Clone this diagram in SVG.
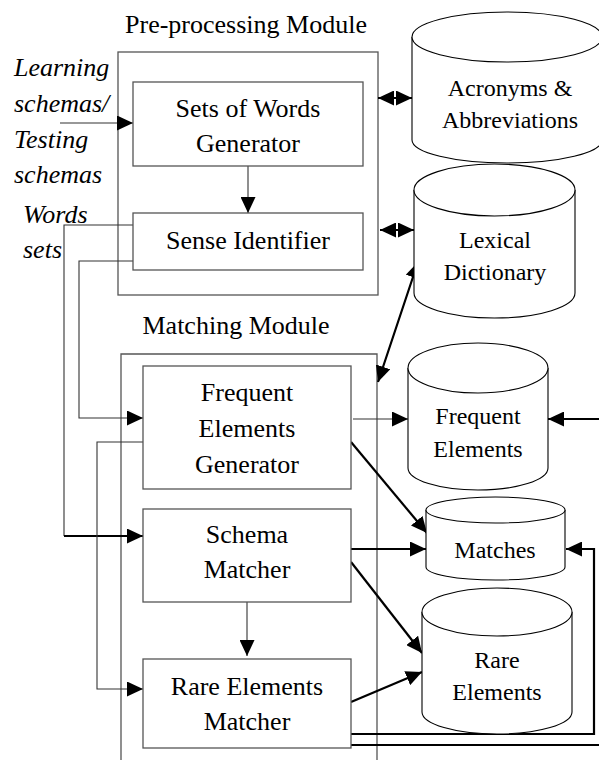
<svg xmlns="http://www.w3.org/2000/svg" width="599" height="760" viewBox="0 0 599 760">
<defs>
<marker id="ah" markerUnits="userSpaceOnUse" markerWidth="16" markerHeight="15" refX="16" refY="7.5" orient="auto-start-reverse">
<path d="M0,0 L16,7.5 L0,15 z" fill="#000"/>
</marker>
</defs>
<style>
text{font-family:'Liberation Serif','DejaVu Serif',serif;fill:#000;text-anchor:middle}
.box{fill:#fff;stroke:#555;stroke-width:1.3}
.mod{fill:none;stroke:#555;stroke-width:1.3}
.cyl{fill:#fff;stroke:#000;stroke-width:1.1}
.t26{font-size:26px}
.t24{font-size:24px}
.it{font-style:italic;font-size:26px;text-anchor:start}
.thin{fill:none;stroke:#333;stroke-width:1.1}
.thick{fill:none;stroke:#000;stroke-width:2.2}
</style>
<rect width="599" height="760" fill="#fff"/>
<g font-family="Liberation Serif, DejaVu Serif, serif">

<g id="preprocessing-module">
<text class="t26" x="246" y="33">Pre-processing Module</text>
<rect class="mod" x="118" y="52" width="260" height="243"/>
</g>
<g id="matching-module">
<text class="t26" x="236" y="334">Matching Module</text>
<path class="mod" d="M121,760 V354 H377 V760"/>
</g>

<g id="input-label">
<text class="it" x="14" y="76">Learning</text>
<text class="it" x="14" y="112">schemas/</text>
<text class="it" x="14" y="148">Testing</text>
<text class="it" x="14" y="183">schemas</text>
</g>
<g id="words-sets-label">
<text class="it" x="23" y="223">Words</text>
<text class="it" x="23" y="258">sets</text>
</g>

<g id="connectors">
<path class="thin" d="M60,123 H133" marker-end="url(#ah)"/>
<path class="thin" d="M248,166 V213" marker-end="url(#ah)"/>
<path class="thin" d="M133,225 H64 V536"/>
<path class="thick" d="M64,536 H143" marker-end="url(#ah)"/>
<path class="thin" d="M133,261 H79 V418 H143" marker-end="url(#ah)"/>
<path class="thin" d="M143,442 H97 V689 H143" marker-end="url(#ah)"/>
<path class="thin" d="M247,602 V656" marker-end="url(#ah)"/>
<path class="thin" d="M353,419 H408" marker-end="url(#ah)"/>
<path class="thick" d="M599,419 H548" marker-end="url(#ah)"/>
<path class="thick" d="M378,98 H412" marker-start="url(#ah)" marker-end="url(#ah)"/>
<path class="thick" d="M380,230 H414" marker-start="url(#ah)" marker-end="url(#ah)"/>
<path class="thick" d="M378,382 L418,262" marker-start="url(#ah)" marker-end="url(#ah)"/>
<path class="thick" d="M351,442 L427,533" marker-end="url(#ah)"/>
<path class="thick" d="M351,549 H426" marker-end="url(#ah)"/>
<path class="thick" d="M351,562 L422,653" marker-end="url(#ah)"/>
<path class="thick" d="M351,702 L422,672" marker-end="url(#ah)"/>
<path class="thick" d="M351,734 H594 V549 H566" marker-end="url(#ah)"/>
<path class="thick" d="M351,745 H599"/>
</g>

<g id="sets-of-words-generator">
<rect class="box" x="133" y="82" width="230" height="84"/>
<text class="t26" x="248" y="117">Sets of Words</text>
<text class="t26" x="248" y="152">Generator</text>
</g>
<g id="sense-identifier">
<rect class="box" x="133" y="213" width="230" height="57"/>
<text class="t26" x="248" y="249">Sense Identifier</text>
</g>
<g id="frequent-elements-generator">
<rect class="box" x="143" y="366" width="208" height="123"/>
<text class="t26" x="247" y="401">Frequent</text>
<text class="t26" x="247" y="437">Elements</text>
<text class="t26" x="247" y="473">Generator</text>
</g>
<g id="schema-matcher">
<rect class="box" x="143" y="509" width="208" height="93"/>
<text class="t26" x="247" y="543">Schema</text>
<text class="t26" x="247" y="578">Matcher</text>
</g>
<g id="rare-elements-matcher">
<rect class="box" x="143" y="659" width="208" height="89"/>
<text class="t26" x="247" y="695">Rare Elements</text>
<text class="t26" x="247" y="730">Matcher</text>
</g>

<g id="acronyms-abbreviations">
<path class="cyl" d="M412,37 V140 A95,23 0 0 0 602,140 V37"/>
<ellipse class="cyl" cx="507" cy="37" rx="95" ry="25"/>
<text class="t24" x="510" y="96">Acronyms &amp;</text>
<text class="t24" x="510" y="128">Abbreviations</text>
</g>
<g id="lexical-dictionary">
<path class="cyl" d="M414,190 V293 A80.5,25 0 0 0 575,293 V190"/>
<ellipse class="cyl" cx="494.5" cy="190" rx="80.5" ry="26"/>
<text class="t24" x="495" y="248">Lexical</text>
<text class="t24" x="495" y="280">Dictionary</text>
</g>
<g id="frequent-elements">
<path class="cyl" d="M408,368 V468 A70,22 0 0 0 548,468 V368"/>
<ellipse class="cyl" cx="478" cy="368" rx="70" ry="25"/>
<text class="t24" x="478" y="424">Frequent</text>
<text class="t24" x="478" y="457">Elements</text>
</g>
<g id="matches">
<path class="cyl" d="M426,510 V567 A69.5,13 0 0 0 565,567 V510"/>
<ellipse class="cyl" cx="495.5" cy="510" rx="69.5" ry="13"/>
<text class="t24" x="495" y="558">Matches</text>
</g>
<g id="rare-elements">
<path class="cyl" d="M422,612 V712 A75,22 0 0 0 572,712 V612"/>
<ellipse class="cyl" cx="497" cy="612" rx="75" ry="24"/>
<text class="t24" x="497" y="668">Rare</text>
<text class="t24" x="497" y="700">Elements</text>
</g>
</g>
</svg>
